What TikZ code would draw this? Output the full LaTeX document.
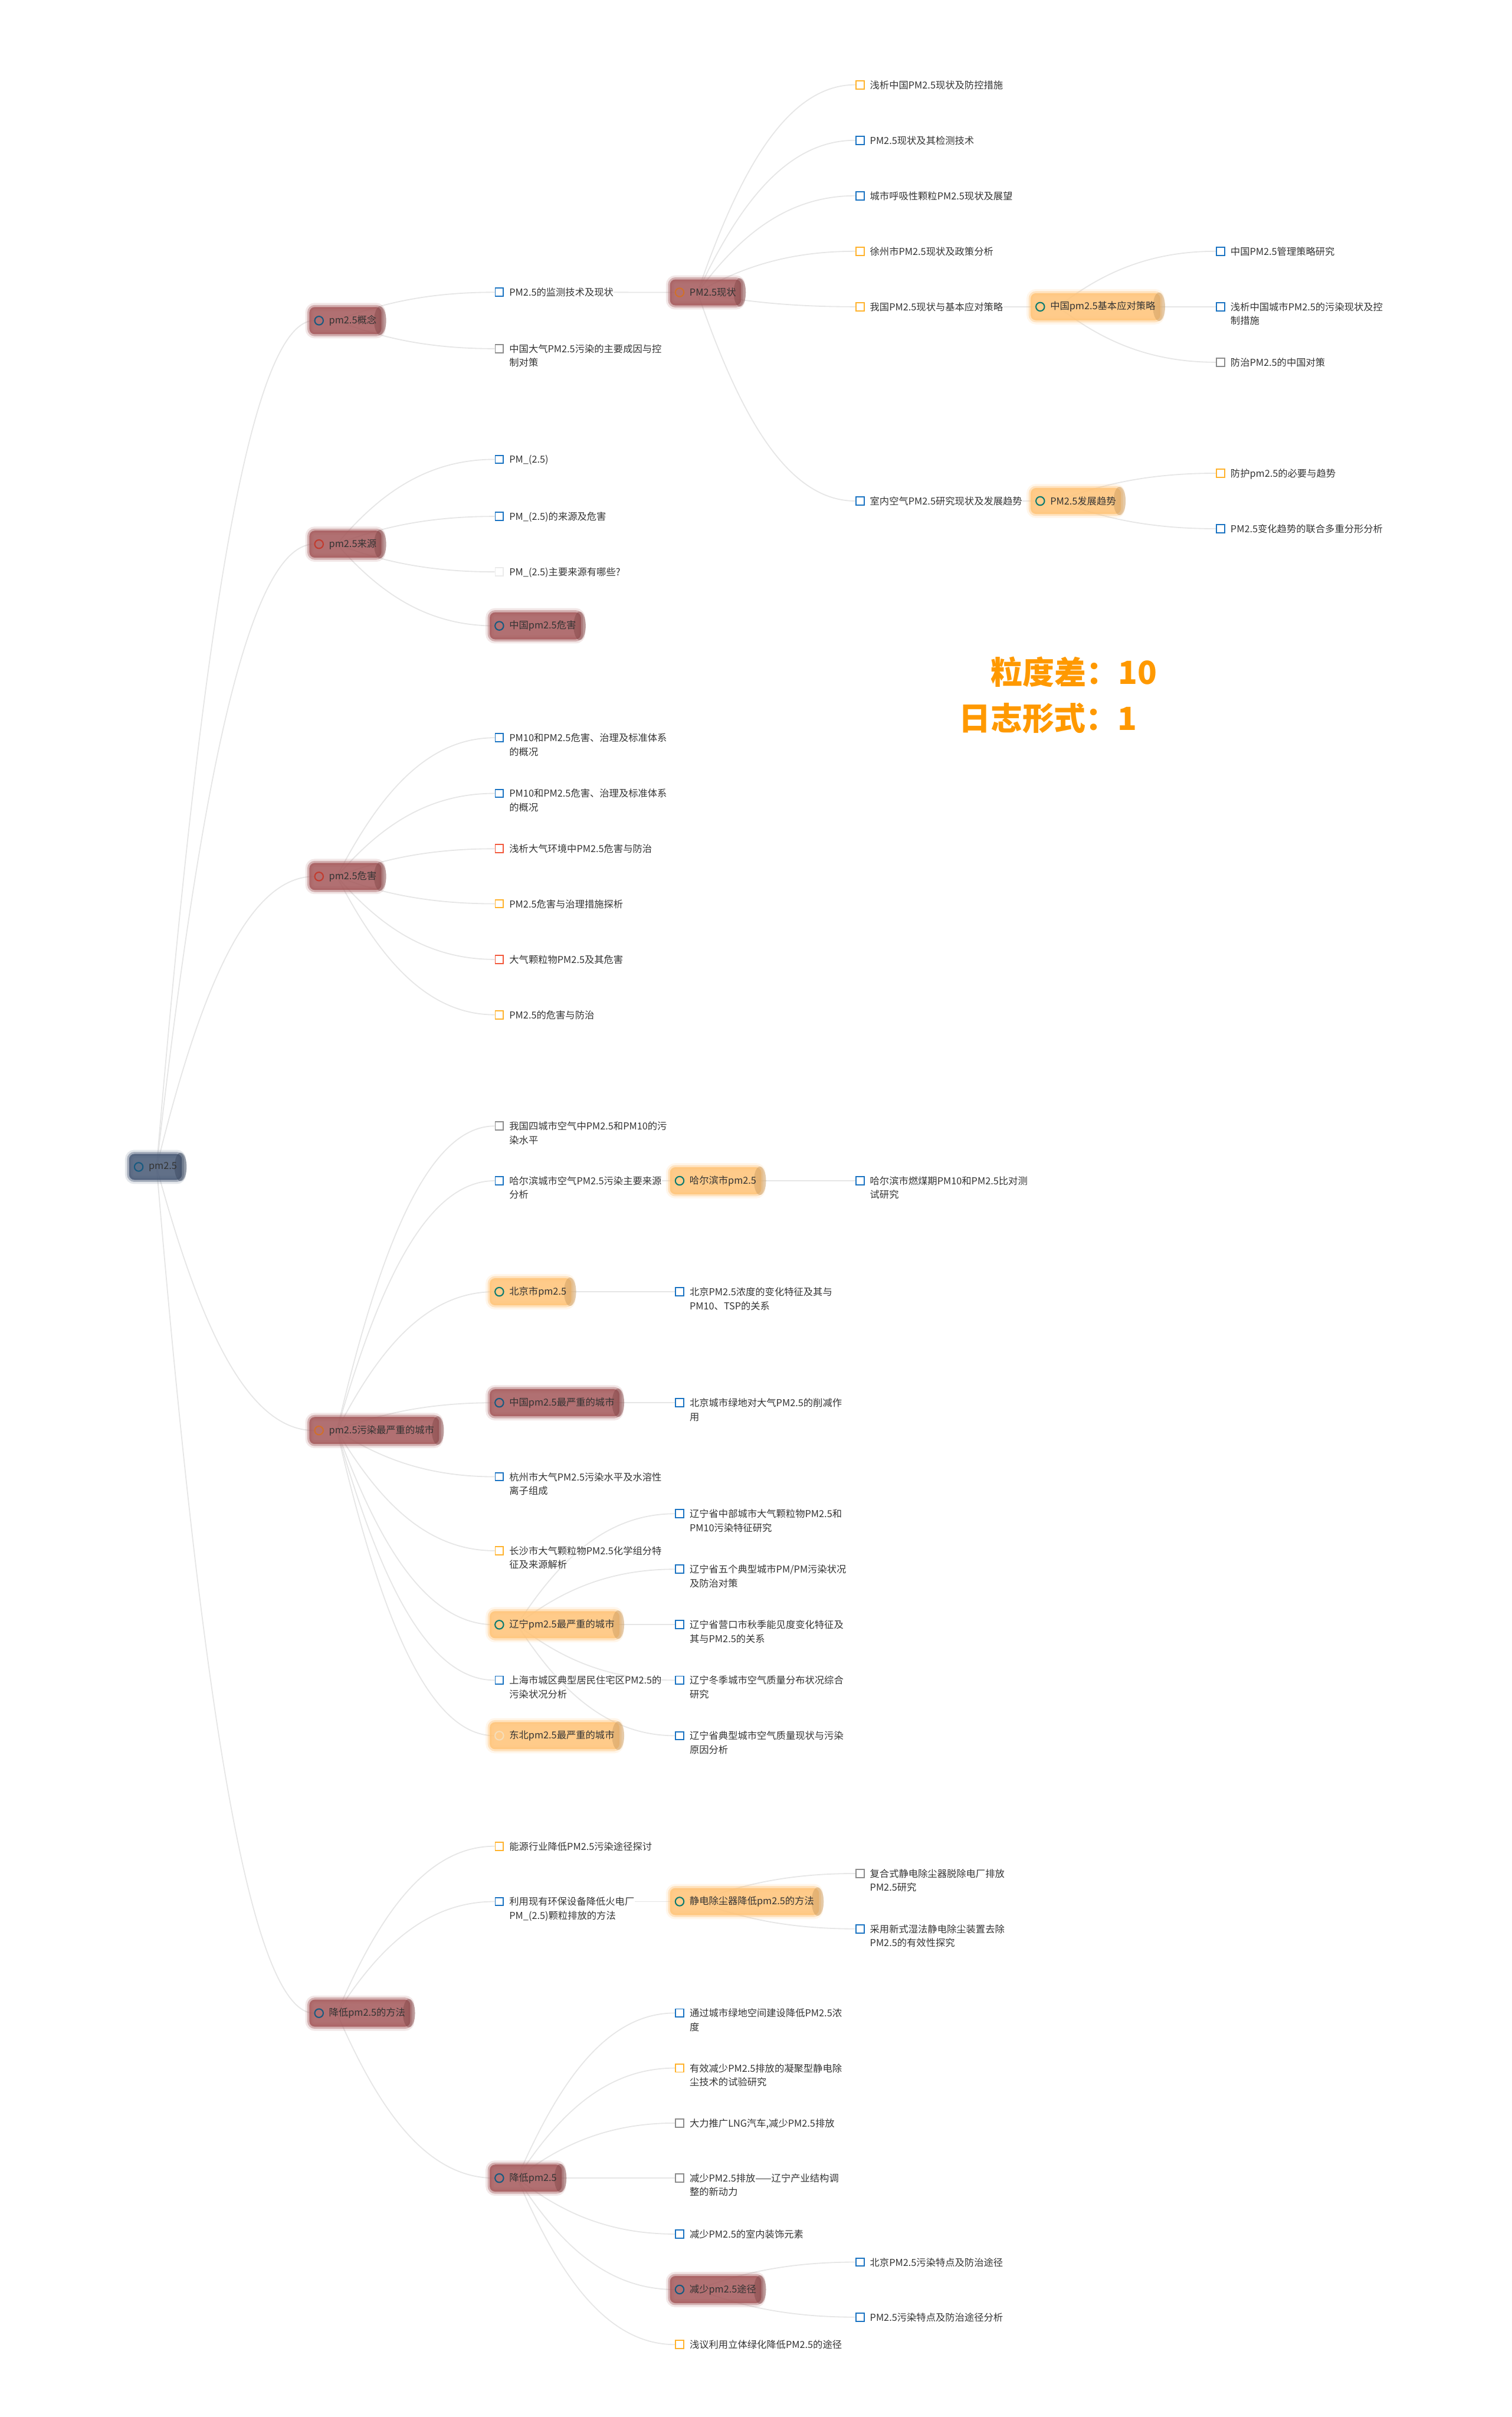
\documentclass[tikz,border=0pt]{standalone}
\usepackage{fontspec}
\setmainfont{Noto Sans CJK SC}
\usetikzlibrary{calc,fit,backgrounds,positioning}
\pgfdeclarelayer{lines}
\pgfsetlayers{lines,background,main}
\definecolor{ink}{HTML}{333333}
\definecolor{linkc}{HTML}{E6E6E6}
\definecolor{redb}{HTML}{A65C5E}
\definecolor{orab}{HTML}{FFC47A}
\definecolor{rootb}{HTML}{4B5C78}
\definecolor{ringn}{HTML}{175A80}
\definecolor{ringr}{HTML}{C23B2E}
\definecolor{ringo}{HTML}{D0702A}
\definecolor{ringt}{HTML}{0B7A70}
\definecolor{ringf}{HTML}{F6DDB8}
\definecolor{sqb}{HTML}{1A73C2}
\definecolor{sqo}{HTML}{FFB22C}
\definecolor{sqr}{HTML}{F2583B}
\definecolor{sqg}{HTML}{8C8C8C}
\definecolor{sql}{HTML}{EBEBEB}
\definecolor{accent}{HTML}{FF9900}

\tikzset{
  sq/.style={draw=#1, line width=0.85pt, minimum size=6pt, inner sep=0pt},
  dot/.style={circle, draw=#1, line width=0.9pt, minimum size=6.3pt, inner sep=0pt},
  txt/.style={inner sep=0pt, align=left, text=ink},
  brush/.style={fill=#1, fill opacity=0.88, draw=#1, draw opacity=0.4, line width=3pt,
    preaction={draw=#1, draw opacity=0.15, line width=6pt},
    rounded corners=4pt, inner xsep=3.5pt, inner ysep=6pt},
  link/.style={draw=linkc, line width=0.8pt}
}

\begin{document}
\begin{tikzpicture}[x=0.04cm, y=-0.04cm, font={\fontsize{7.1}{10.2}\selectfont}]

\def\cz{90}    % x of the root column
\def\cw{117}   % column pitch

\useasboundingbox (0,0) rectangle (981,1568);

% ---- topics: name/column/y/ring colour/brush colour/text
\foreach \n/\c/\y/\i/\k/\t in {%
  r/0/757/ringn/rootb/{pm2.5},
  g1/1/208/ringn/redb/{pm2.5概念},
  g2/1/353/ringr/redb/{pm2.5来源},
  g3/1/568.6/ringr/redb/{pm2.5危害},
  g4/1/928/ringo/redb/{pm2.5污染最严重的城市},
  g5/1/1306/ringn/redb/{降低pm2.5的方法},
  b1/3/189.7/ringo/redb/{PM2.5现状},
  d1/5/199/ringt/orab/{中国pm2.5基本应对策略},
  d2/5/325/ringt/orab/{PM2.5发展趋势},
  a6/2/406/ringn/redb/{中国pm2.5危害},
  b2/3/766/ringt/orab/{哈尔滨市pm2.5},
  a15/2/838/ringt/orab/{北京市pm2.5},
  a16/2/910/ringn/redb/{中国pm2.5最严重的城市},
  a19/2/1054/ringt/orab/{辽宁pm2.5最严重的城市},
  a21/2/1126/ringf/orab/{东北pm2.5最严重的城市},
  b10/3/1233.6/ringt/orab/{静电除尘器降低pm2.5的方法},
  a24/2/1413/ringn/redb/{降低pm2.5},
  b16/3/1485.3/ringn/redb/{减少pm2.5途径}%
}{
  \pgfmathsetmacro{\xx}{\cz+\c*\cw}
  \node[dot=\i] (\n) at (\xx,\y) {};
  \node[txt, right=3.6pt of \n] (\n-t) {\t};
  \begin{scope}[on background layer]
    \node[brush=\k, fit=(\n)(\n-t)] (\n-b) {};
    \fill[\k!80!black, opacity=0.5] ([xshift=-2.5pt]\n-b.east)
      ellipse (4.5pt and 10.5pt);
  \end{scope}
}

% ---- leaves: name/column/y/box colour/text
\foreach \n/\c/\y/\k/\t in {%
  a1/2/189.6/sqb/{PM2.5的监测技术及现状},
  a2/2/226.2/sqg/{中国大气PM2.5污染的主要成因与控\\制对策},
  c1/4/55/sqo/{浅析中国PM2.5现状及防控措施},
  c2/4/91/sqb/{PM2.5现状及其检测技术},
  c3/4/127/sqb/{城市呼吸性颗粒PM2.5现状及展望},
  c4/4/163/sqo/{徐州市PM2.5现状及政策分析},
  c5/4/199/sqo/{我国PM2.5现状与基本应对策略},
  c6/4/325/sqb/{室内空气PM2.5研究现状及发展趋势},
  e1/6/163/sqb/{中国PM2.5管理策略研究},
  e2/6/199/sqb/{浅析中国城市PM2.5的污染现状及控\\制措施},
  e3/6/235/sqg/{防治PM2.5的中国对策},
  e4/6/307/sqo/{防护pm2.5的必要与趋势},
  e5/6/343/sqb/{PM2.5变化趋势的联合多重分形分析},
  a3/2/298/sqb/{PM\_(2.5)},
  a4/2/335/sqb/{PM\_(2.5)的来源及危害},
  a5/2/371/sql/{PM\_(2.5)主要来源有哪些?},
  a7/2/478.6/sqb/{PM10和PM2.5危害、治理及标准体系\\的概况},
  a8/2/514.7/sqb/{PM10和PM2.5危害、治理及标准体系\\的概况},
  a9/2/550.6/sqr/{浅析大气环境中PM2.5危害与防治},
  a10/2/586.3/sqo/{PM2.5危害与治理措施探析},
  a11/2/622.4/sqr/{大气颗粒物PM2.5及其危害},
  a12/2/658.3/sqo/{PM2.5的危害与防治},
  a13/2/730.5/sqg/{我国四城市空气中PM2.5和PM10的污\\染水平},
  a14/2/766/sqb/{哈尔滨城市空气PM2.5污染主要来源\\分析},
  c7/4/766/sqb/{哈尔滨市燃煤期PM10和PM2.5比对测\\试研究},
  b3/3/838/sqb/{北京PM2.5浓度的变化特征及其与\\PM10、TSP的关系},
  b4/3/910/sqb/{北京城市绿地对大气PM2.5的削减作\\用},
  a17/2/958/sqb/{杭州市大气PM2.5污染水平及水溶性\\离子组成},
  a18/2/1006/sqo/{长沙市大气颗粒物PM2.5化学组分特\\征及来源解析},
  b5/3/982/sqb/{辽宁省中部城市大气颗粒物PM2.5和\\PM10污染特征研究},
  b6/3/1018/sqb/{辽宁省五个典型城市PM/PM污染状况\\及防治对策},
  b7/3/1054/sqb/{辽宁省营口市秋季能见度变化特征及\\其与PM2.5的关系},
  b8/3/1090/sqb/{辽宁冬季城市空气质量分布状况综合\\研究},
  a20/2/1090/sqb/{上海市城区典型居民住宅区PM2.5的\\污染状况分析},
  b9/3/1126/sqb/{辽宁省典型城市空气质量现状与污染\\原因分析},
  a22/2/1197.7/sqo/{能源行业降低PM2.5污染途径探讨},
  a23/2/1233.6/sqb/{利用现有环保设备降低火电厂\\PM\_(2.5)颗粒排放的方法},
  c8/4/1215.4/sqg/{复合式静电除尘器脱除电厂排放\\PM2.5研究},
  c9/4/1251.3/sqb/{采用新式湿法静电除尘装置去除\\PM2.5的有效性探究},
  b11/3/1305.9/sqb/{通过城市绿地空间建设降低PM2.5浓\\度},
  b12/3/1341.6/sqo/{有效减少PM2.5排放的凝聚型静电除\\尘技术的试验研究},
  b13/3/1377.3/sqg/{大力推广LNG汽车,减少PM2.5排放},
  b14/3/1413/sqg/{减少PM2.5排放——辽宁产业结构调\\整的新动力},
  b15/3/1449.3/sqb/{减少PM2.5的室内装饰元素},
  b17/3/1521/sqo/{浅议利用立体绿化降低PM2.5的途径},
  c10/4/1467.5/sqb/{北京PM2.5污染特点及防治途径},
  c11/4/1503.2/sqb/{PM2.5污染特点及防治途径分析}%
}{
  \pgfmathsetmacro{\xx}{\cz+\c*\cw}
  \node[sq=\k] (\n) at (\xx,\y) {};
  \node[txt, anchor=north west] (\n-t) at ([xshift=3.8pt, yshift=3.4pt]\n.east)
    {\t};
}

% ---- connectors, under the brushes
\def\link#1#2{\draw[link] let \p1=(#1), \p2=(#2) in (\p1)
  .. controls ({\x1+0.25*(\x2-\x1)},{\y1+0.55*(\y2-\y1)})
  and ({\x1+0.55*(\x2-\x1)},\y2) .. (\p2);}

\begin{pgfonlayer}{lines}
\foreach \pa/\ch in {%
  r/g1, r/g2, r/g3, r/g4, r/g5,
  g1/a1, g1/a2,
  b1/c1, b1/c2, b1/c3, b1/c4, b1/c5, b1/c6,
  d1/e1, d1/e2, d1/e3, d2/e4, d2/e5,
  g2/a3, g2/a4, g2/a5, g2/a6,
  g3/a7, g3/a8, g3/a9, g3/a10, g3/a11, g3/a12,
  g4/a13, g4/a14, g4/a15, g4/a16, g4/a17, g4/a18, g4/a19, g4/a20, g4/a21,
  b2/c7, a15/b3, a16/b4,
  a19/b5, a19/b6, a19/b7, a19/b8, a19/b9,
  g5/a22, g5/a23, g5/a24,
  b10/c8, b10/c9,
  a24/b11, a24/b12, a24/b13, a24/b14, a24/b15, a24/b16, a24/b17,
  b16/c10, b16/c11%
}{\link{[xshift=6pt]\pa-t.west}{\ch.west}}
\link{a1-t.east |- a1}{b1.west}
\link{c5-t.east |- c5}{d1.west}
\link{c6-t.east |- c6}{d2.west}
\link{a14-t.east |- a14}{b2.west}
\link{a23-t.east |- a23}{b10.west}
\end{pgfonlayer}

% ---- summary
\node[anchor=west, font={\fontsize{23.5}{28}\selectfont\bfseries}, text=accent]
  (gran) at (640,436) {粒度差：10};
\node[anchor=west, font={\fontsize{23.5}{28}\selectfont\bfseries}, text=accent]
  (logf) at (619,466) {日志形式：1};

\end{tikzpicture}
\end{document}
